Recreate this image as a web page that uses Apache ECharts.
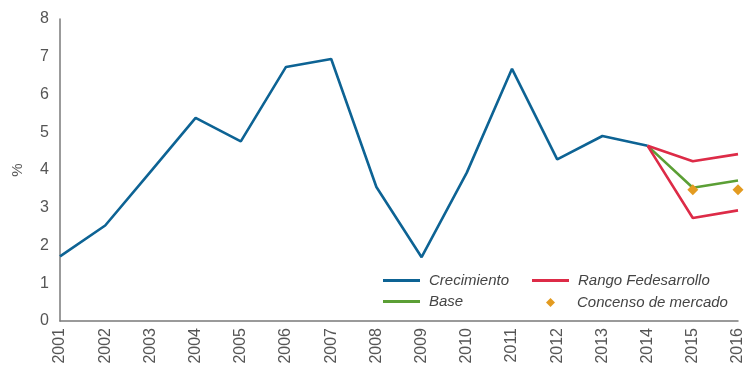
<!DOCTYPE html>
<html>
<head>
<meta charset="utf-8">
<script src="https://cdn.jsdelivr.net/npm/echarts@6/dist/echarts.min.js"></script>
<style>
  html, body { margin: 0; padding: 0; background: #fff; }
  #chart { width: 746px; height: 367px; }
</style>
</head>
<body>
<div id="chart"></div>
<script>
// Años del eje horizontal
const years = ['2001','2002','2003','2004','2005','2006','2007','2008',
               '2009','2010','2011','2012','2013','2014','2015','2016'];

// Crecimiento observado del PIB (%)
const crecimiento = [1.71, 2.53, 3.95, 5.38, 4.76, 6.73, 6.94, 3.55,
                     1.69, 3.93, 6.68, 4.28, 4.90, 4.64, null, null];

// Rango de pronóstico Fedesarrollo (límite superior e inferior)
const rangoSuperior = [null, null, null, null, null, null, null, null,
                       null, null, null, null, null, 4.64, 4.23, 4.42];
const rangoInferior = [null, null, null, null, null, null, null, null,
                       null, null, null, null, null, 4.64, 2.73, 2.93];

// Escenario base
const base = [null, null, null, null, null, null, null, null,
              null, null, null, null, null, 4.64, 3.53, 3.72];

// Consenso de mercado
const consenso = [null, null, null, null, null, null, null, null,
                  null, null, null, null, null, null, 3.48, 3.48];

const yTicks = { min: 0, max: 8, interval: 1 };

const C_BLUE = '#0d6394';
const C_RED = '#dd2b47';
const C_GREEN = '#5b9f35';
const C_ORANGE = '#e39b20';
const FONT = '"Liberation Sans", Arial, sans-serif';

const chart = echarts.init(document.getElementById('chart'), null, { renderer: 'canvas' });

const lineSeries = (name, data, color) => ({
  name, type: 'line', data,
  symbol: 'none', showSymbol: false,
  lineStyle: { color, width: 2.6 },
  itemStyle: { color },
  connectNulls: false,
  animation: false
});

const legendText = (padLeft) => ({
  fontFamily: FONT, fontSize: 15, fontStyle: 'italic', color: '#444',
  lineHeight: 15, padding: [0, 0, 0, padLeft]
});

chart.setOption({
  animation: false,
  backgroundColor: '#fff',
  grid: { left: 60, right: 6, top: 19, bottom: 46, containLabel: false },
  legend: [
    {
      orient: 'vertical', left: 383, top: 273, padding: 0,
      itemWidth: 37, itemHeight: 3, itemGap: 6,
      textStyle: legendText(4),
      data: [
        { name: 'Crecimiento', icon: 'rect' },
        { name: 'Base', icon: 'rect' }
      ]
    },
    {
      orient: 'vertical', left: 532, top: 273, padding: 0,
      itemWidth: 37, itemHeight: 3, itemGap: 6,
      textStyle: legendText(4),
      data: [{ name: 'Rango Fedesarrollo', icon: 'rect' }]
    },
    {
      orient: 'vertical', left: 546, top: 295, padding: 0,
      itemWidth: 9, itemHeight: 9,
      textStyle: legendText(17),
      data: [{ name: 'Concenso de mercado', icon: 'diamond' }]
    }
  ],
  xAxis: {
    type: 'category',
    data: years,
    boundaryGap: false,
    axisLine: { lineStyle: { color: '#7a7a7a', width: 1.5 } },
    axisTick: { show: false },
    axisLabel: {
      rotate: 90, margin: 7, interval: 0,
      fontFamily: FONT, fontSize: 16, color: '#555'
    },
    splitLine: { show: false }
  },
  yAxis: {
    type: 'value',
    min: yTicks.min, max: yTicks.max, interval: yTicks.interval,
    name: '%',
    nameLocation: 'middle',
    nameRotate: 90,
    nameGap: 35,
    nameTextStyle: { fontFamily: FONT, fontSize: 15, color: '#555' },
    axisLine: { show: true, lineStyle: { color: '#7a7a7a', width: 1.5 } },
    axisTick: { show: false },
    axisLabel: { margin: 11, fontFamily: FONT, fontSize: 16, color: '#555' },
    splitLine: { show: false }
  },
  series: [
    lineSeries('Crecimiento', crecimiento, C_BLUE),
    lineSeries('Base', base, C_GREEN),
    lineSeries('Rango Fedesarrollo', rangoSuperior, C_RED),
    lineSeries('Rango Fedesarrollo', rangoInferior, C_RED),
    {
      name: 'Concenso de mercado', type: 'scatter', data: consenso,
      symbol: 'diamond', symbolSize: 11,
      itemStyle: { color: C_ORANGE, opacity: 1 },
      z: 5
    }
  ]
});
</script>
</body>
</html>
